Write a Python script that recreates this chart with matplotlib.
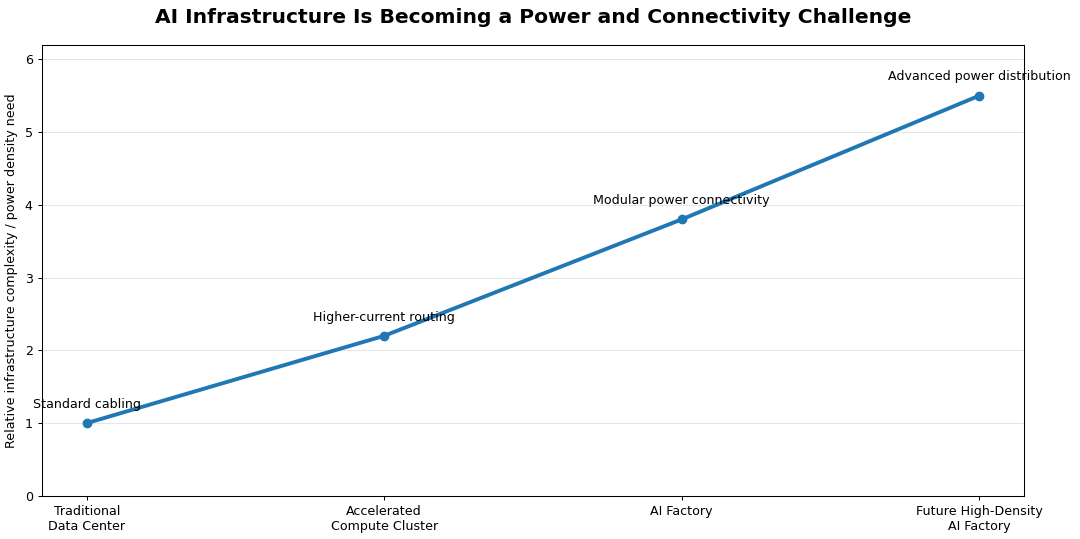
import matplotlib
matplotlib.use("Agg")
import matplotlib.pyplot as plt

stages = ["Traditional\nData Center", "Accelerated\nCompute Cluster", "AI Factory", "Future High-Density\nAI Factory"]
values = [1.0, 2.2, 3.8, 5.5]
notes = ["Standard cabling", "Higher-current routing", "Modular power connectivity", "Advanced power distribution"]

fs = 9.1
fig, ax = plt.subplots(figsize=(10.8, 5.39), dpi=100)
x = list(range(len(stages)))
ax.plot(x, values, marker="o", linewidth=2.8, markersize=6, color="#1f77b4")
for xi, v, n in zip(x, values, notes):
    ax.annotate(n, (xi, v), textcoords="offset points", xytext=(0, 11), ha="center", fontsize=fs)
ax.set_xticks(x)
ax.set_xticklabels(stages, fontsize=fs)
ax.tick_params(axis="both", labelsize=fs, length=3.2, width=0.75)
for s in ax.spines.values():
    s.set_linewidth(0.75)
ax.set_ylim(0, 6.2)
ax.set_xlim(-0.15, 3.15)
ax.set_ylabel("Relative infrastructure complexity / power density need", fontsize=fs, labelpad=5)
ax.grid(axis="y", color="#e6e6e6", linewidth=0.75)
ax.set_axisbelow(True)
fig.suptitle("AI Infrastructure Is Becoming a Power and Connectivity Challenge", fontsize=14.6, fontweight="bold", x=0.494, y=0.985)
fig.subplots_adjust(left=0.039, right=0.948, top=0.917, bottom=0.08)
fig.savefig("out.png", dpi=100)
